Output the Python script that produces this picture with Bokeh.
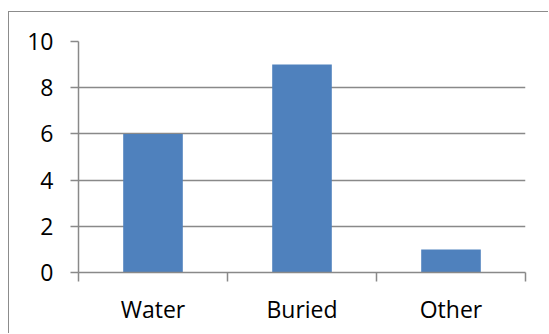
from bokeh.plotting import figure
from bokeh.models import FixedTicker, Range1d, ColumnDataSource
from bokeh.embed import file_html
from bokeh.resources import INLINE

categories = ["Water", "Buried", "Other"]
counts = [6, 9, 1]
y_ticks = [0, 2, 4, 6, 8, 10]

BAR = "#4F81BD"
GRID = "#898989"
FONT = "Open Sans"

xs = [i + 0.5 for i in range(len(categories))]
src = ColumnDataSource(dict(x=xs, top=counts, cat=categories))

p = figure(width=540, height=322, output_backend="svg", toolbar_location=None,
           x_range=Range1d(0, len(categories)), y_range=Range1d(y_ticks[0], y_ticks[-1]),
           min_border_left=69, min_border_right=24, min_border_top=29, min_border_bottom=62)
p.styles = {"margin-left": "8px", "margin-top": "11px",
            "border-left": "1px solid #8c8c8c", "border-top": "1px solid #8c8c8c"}
p.outline_line_color = None
p.background_fill_color = "white"
p.border_fill_color = "white"

p.vbar(x="x", top="top", width=0.4, bottom=0, source=src, fill_color=BAR, line_color=None)

# x axis: labels at category centres, ticks at category boundaries
p.xaxis.ticker = FixedTicker(ticks=xs, minor_ticks=list(range(len(categories) + 1)))
p.xaxis.major_label_overrides = {x: c for x, c in zip(xs, categories)}
p.xaxis.major_tick_line_color = None
p.xaxis.minor_tick_line_color = GRID
p.xaxis.minor_tick_line_width = 1.5
p.xaxis.minor_tick_out = 9
p.xaxis.minor_tick_in = 0
p.xaxis.axis_line_color = GRID
p.xaxis.axis_line_width = 1.5
p.xaxis.major_label_text_font = FONT
p.xaxis.major_label_text_font_size = "23px"
p.xaxis.major_label_text_color = "black"
p.xaxis.major_label_standoff = 11

p.yaxis.ticker = FixedTicker(ticks=y_ticks)
p.yaxis.minor_tick_line_color = None
p.yaxis.major_tick_line_color = GRID
p.yaxis.major_tick_line_width = 1.5
p.yaxis.major_tick_out = 8
p.yaxis.major_tick_in = 0
p.yaxis.axis_line_color = GRID
p.yaxis.axis_line_width = 1.5
p.yaxis.major_label_text_font = FONT
p.yaxis.major_label_text_font_size = "23px"
p.yaxis.major_label_text_color = "black"
p.yaxis.major_label_standoff = 17

p.xgrid.grid_line_color = None
p.ygrid.grid_line_color = GRID
p.ygrid.grid_line_width = 1.5

open("out.html", "w").write(file_html(p, INLINE))
